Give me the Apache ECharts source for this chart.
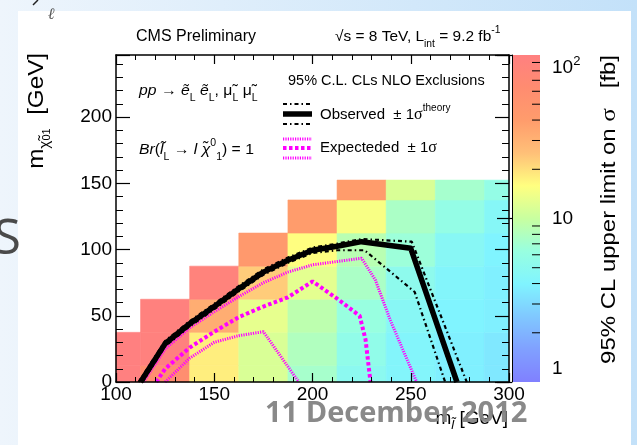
<!DOCTYPE html>
<html>
<head>
<meta charset="utf-8">
<script src="https://cdn.jsdelivr.net/npm/echarts/dist/echarts.min.js"></script>
<style>
html,body{margin:0;padding:0;background:#fff;}
#c{width:637px;height:445px;}
</style>
</head>
<body>
<div id="c"></div>
<script>
// ---------------- data ----------------
const xCenters = [100, 125, 150, 175, 200, 225, 250, 275, 300];
const binWidth = 25;
const yEdges = [-12.5, 12.5, 37.5, 62.5, 87.5, 112.5, 137.5, 152.5];
// 95% CL upper limit on sigma [fb], per column of m_slepton, from the lowest LSP row upwards
const limitValues = [
  [100, 100],
  [60, 95, 95],
  [18, 18, 32, 88],
  [11.5, 11.5, 13, 23, 43],
  [7.3, 8, 9, 12.6, 16, 40],
  [5, 5.5, 6.3, 7.6, 8.7, 15, 40],
  [4.2, 4.2, 4.6, 5.2, 6.6, 7.6, 11.5],
  [3.8, 3.8, 4, 4.2, 4.6, 5.8, 7.2],
  [3.5, 3.5, 3.8, 3.8, 4, 4.5, 5.8]
];
const observed = [[112.5,0],[125,29],[137.5,44],[150,57],[162.5,70.5],[175,83],[187.5,92],[200,99.5],[212.5,102.5],[225,106],[250,101],[273.5,0]];
const observedUp = [[111.5,0],[125,31],[137.5,46],[150,59],[162.5,72.5],[175,85],[187.5,94],[200,101.5],[212.5,104.5],[225,108],[250.5,106],[278.5,0]];
const observedDown = [[113.5,0],[125,27],[137.5,42],[150,55],[162.5,68.5],[175,81],[187.5,90],[200,97.5],[212.5,99.5],[226.5,99.5],[252,68],[267.5,0]];
const expected = [[120.5,0],[125,10],[137.5,26],[150,38],[162.5,49],[175,57],[187.5,64],[200,76],[212.5,63],[224,50],[227,32],[229.5,0]];
const expectedUp = [[114,0],[125,25],[137.5,41],[150,53],[162.5,64.5],[175,75],[187.5,83],[200,88.5],[212.5,91],[225,93.5],[232,77],[239.5,47],[253,0]];
const expectedDown = [[125,0],[137.5,18],[150,30],[162.5,35],[175,38],[193,0]];
const xTickLabels = ['100', '150', '200', '250', '300'];
const yTickLabels = ['0', '50', '100', '150', '200'];
const zTickLabels = ['1', '10', '10²'];
const zMinorTicks = [2, 3, 4, 5, 6, 7, 8, 9, 20, 30, 40, 50, 60, 70, 80, 90];
const palette = ['#8080ff','#80a0ff','#80c8ff','#80f4ff','#98ffe0','#c8ffa0','#ffff80','#ffc078','#ff9c6c','#ff8c70','#ff8080'];

// ---------------- chart ----------------
const FONT = '"Liberation Sans", Arial, Helvetica, sans-serif';
const SERIF = '"Liberation Serif", "DejaVu Serif", serif';
const chart = echarts.init(document.getElementById('c'), null, {renderer: 'canvas', width: 637, height: 445});

const cellData = [];
xCenters.forEach(function (xc, i) {
  limitValues[i].forEach(function (v, j) {
    cellData.push([xc, yEdges[j], yEdges[j + 1], v, Math.log10(v)]);
  });
});

function renderCell(params, api) {
  const xc = api.value(0), y0 = api.value(1), y1 = api.value(2);
  const p0 = api.coord([xc - binWidth / 2, y1]);
  const p1 = api.coord([xc + binWidth / 2, y0]);
  const cs = params.coordSys;
  const rect = echarts.graphic.clipRectByRect(
    {x: p0[0], y: p0[1], width: p1[0] - p0[0], height: p1[1] - p0[1]},
    {x: cs.x, y: cs.y, width: cs.width, height: cs.height});
  if (!rect) return;
  const c = api.visual('color');
  return {type: 'rect', shape: rect, style: {fill: c, stroke: c, lineWidth: 0.6}};
}

function renderBar(params, api) {
  const top = api.coord([0, api.value(2)]);
  const bot = api.coord([1, api.value(1)]);
  return {
    type: 'rect',
    shape: {x: top[0], y: top[1], width: bot[0] - top[0], height: bot[1] - top[1]},
    style: {fill: new echarts.graphic.LinearGradient(0, 1, 0, 0,
      palette.map(function (c, i) { return {offset: i / (palette.length - 1), color: c}; }))}
  };
}

function renderMinorTick(params, api) {
  const p = api.coord([1, api.value(1)]);
  return {type: 'line', shape: {x1: p[0] - 8, y1: p[1], x2: p[0], y2: p[1]},
    style: {stroke: '#000', lineWidth: 1}};
}

function labelFor(list, v) {
  const s = String(v);
  return list.indexOf(s) >= 0 ? s : '';
}

const blackLine = {color: '#000', width: 1.5};
function frameAxis(extra) {
  return Object.assign({
    type: 'value', z: 10,
    axisLine: {show: true, onZero: false, lineStyle: blackLine},
    splitLine: {show: false},
    minorSplitLine: {show: false}
  }, extra);
}

function lineSeries(data, style, z) {
  return {
    type: 'line', xAxisIndex: 0, yAxisIndex: 0, data: data,
    symbol: 'none', showSymbol: false, silent: true, clip: true,
    lineStyle: style, z: z
  };
}

function txt(x, y, text, opt) {
  opt = opt || {};
  return {
    type: 'text', x: x, y: y, z: 100, silent: true,
    rotation: opt.rotation || 0,
    scaleX: opt.scaleX || 1,
    style: {
      text: text,
      fill: opt.fill || '#000',
      fontSize: opt.fontSize || 15,
      fontFamily: opt.fontFamily || FONT,
      fontWeight: opt.fontWeight || 'normal',
      fontStyle: opt.fontStyle || 'normal',
      align: opt.align || 'left', textAlign: opt.align || 'left',
      verticalAlign: opt.vAlign || 'middle', textVerticalAlign: opt.vAlign || 'middle',
      rich: opt.rich,
      opacity: opt.opacity == null ? 1 : opt.opacity
    }
  };
}

function legLine(x1, x2, y, style) {
  return {type: 'line', z: 100, silent: true, shape: {x1: x1, y1: y, x2: x2, y2: y}, style: style};
}

const richBase = {
  t: {fontSize: 15, fontFamily: FONT, lineHeight: 24},
  i: {fontSize: 15, fontFamily: FONT, fontStyle: 'italic', lineHeight: 24},
  g: {fontSize: 16, fontFamily: SERIF, lineHeight: 24},
  sub: {fontSize: 10, fontFamily: FONT, lineHeight: 11, verticalAlign: 'bottom'},
  sup: {fontSize: 10, fontFamily: FONT, lineHeight: 11, verticalAlign: 'top'}
};

const option = {
  animation: false,
  backgroundColor: 'transparent',
  grid: [
    {left: 116, top: 55, width: 393, height: 327, outerBoundsMode: 'none', containLabel: false},
    {left: 512, top: 55, width: 28, height: 327, outerBoundsMode: 'none', containLabel: false}
  ],
  visualMap: {
    type: 'continuous', show: false, seriesIndex: 0, dimension: 4,
    min: 0, max: 2, inRange: {color: palette}
  },
  xAxis: [
    frameAxis({gridIndex: 0, position: 'bottom', min: 100, max: 300, interval: 50,
      axisTick: {show: true, inside: true, length: 9, lineStyle: {color: '#000', width: 1.2}},
      minorTick: {show: true, splitNumber: 5, length: 5, lineStyle: {color: '#000', width: 1}},
      axisLabel: {show: true, color: '#000', fontSize: 19, fontFamily: FONT, margin: 3,
        formatter: function (v) { return labelFor(xTickLabels, v); }}}),
    frameAxis({gridIndex: 0, position: 'top', min: 100, max: 300, interval: 50,
      axisTick: {show: true, inside: true, length: 9, lineStyle: {color: '#000', width: 1.2}},
      minorTick: {show: true, splitNumber: 5, length: 5, lineStyle: {color: '#000', width: 1}},
      axisLabel: {show: false}}),
    {gridIndex: 1, type: 'value', min: 0, max: 1, show: false}
  ],
  yAxis: [
    frameAxis({gridIndex: 0, position: 'left', min: 0, max: 247, interval: 50,
      axisTick: {show: true, inside: true, length: 14, lineStyle: {color: '#000', width: 1.2}},
      minorTick: {show: true, splitNumber: 5, length: 7, lineStyle: {color: '#000', width: 1}},
      axisLabel: {show: true, color: '#000', fontSize: 19, fontFamily: FONT, margin: 4, showMaxLabel: false,
        formatter: function (v) { return labelFor(yTickLabels, v); }}}),
    frameAxis({gridIndex: 0, position: 'right', min: 0, max: 247, interval: 50,
      axisTick: {show: true, inside: true, length: 14, lineStyle: {color: '#000', width: 1.2}},
      minorTick: {show: true, splitNumber: 5, length: 7, lineStyle: {color: '#000', width: 1}},
      axisLabel: {show: false}}),
    {gridIndex: 1, type: 'log', logBase: 10, min: 1, max: 100, position: 'right', z: 10,
      axisLine: {show: true, lineStyle: {color: '#000', width: 1}},
      axisTick: {show: true, inside: true, length: 15, lineStyle: {color: '#000', width: 1.2}},
      minorTick: {show: false},
      splitLine: {show: false}, minorSplitLine: {show: false},
      axisLabel: {show: true, color: '#000', fontSize: 19, fontFamily: FONT, margin: 12,
        verticalAlignMinLabel: 'bottom', verticalAlignMaxLabel: 'top',
        formatter: function (v) {
          const s = v >= 99 ? zTickLabels[2] : (v >= 9 ? zTickLabels[1] : zTickLabels[0]);
          if (s === '10²') return '{b|10}{s|2}';
          return '{b|' + s + '}';
        },
        rich: {
          b: {fontSize: 19, fontFamily: FONT, lineHeight: 26, color: '#000'},
          s: {fontSize: 13, fontFamily: FONT, lineHeight: 13, verticalAlign: 'top', color: '#000'}
        }}}
  ],
  series: [
    {type: 'custom', xAxisIndex: 0, yAxisIndex: 0, renderItem: renderCell, data: cellData,
      encode: {x: 0, y: [1, 2]}, z: 1, silent: true},
    {type: 'custom', xAxisIndex: 2, yAxisIndex: 2, renderItem: renderBar, data: [[0, 1, 100]],
      encode: {x: 0, y: [1, 2]}, z: 1, silent: true},
    {type: 'custom', xAxisIndex: 2, yAxisIndex: 2, renderItem: renderMinorTick,
      data: zMinorTicks.map(function (v) { return [1, v]; }),
      encode: {x: 0, y: 1}, z: 12, silent: true, clip: false},
    lineSeries(expectedDown, {color: '#ff00ff', width: 3, type: [1.2, 1.2]}, 3),
    lineSeries(expectedUp, {color: '#ff00ff', width: 3, type: [1.2, 1.2]}, 3),
    lineSeries(expected, {color: '#ff00ff', width: 4, type: [3.5, 2.5]}, 4),
    lineSeries(observedUp, {color: '#000', width: 2.2, type: [4, 3, 1.5, 3]}, 5),
    lineSeries(observedDown, {color: '#000', width: 2.2, type: [4, 3, 1.5, 3]}, 5),
    lineSeries(observed, {color: '#000', width: 5.5, join: 'round'}, 6)
  ],
  graphic: {
    elements: [
      // slide background + white panel
      {type: 'rect', z: -10, silent: true, shape: {x: 0, y: 0, width: 637, height: 445},
        style: {fill: new echarts.graphic.LinearGradient(0, 0, 1, 0, [
          {offset: 0, color: '#eef5fc'}, {offset: 1, color: '#c3e1f9'}])}},
      {type: 'rect', z: -9, silent: true, shape: {x: 18, y: 11, width: 613, height: 434}, style: {fill: '#ffffff'}},
      {type: 'line', z: 100, silent: true, shape: {x1: 33, y1: 5, x2: 38, y2: 0}, style: {stroke: '#222', lineWidth: 1.5}},
      txt(21, 240, 'S', {fontSize: 50, fill: '#4a4a4a', align: 'right', fontFamily: '"Open Sans", sans-serif'}),
      txt(51, 15, 'ℓ', {fontSize: 16, fill: '#555', align: 'center', fontStyle: 'italic', fontFamily: SERIF}),

      // headings
      txt(196, 37, 'CMS Preliminary', {fontSize: 16, align: 'center'}),
      txt(335, 37, '{t|√s = 8 TeV, L}{sub|int}{t| = 9.2 fb}{sup|-1}', {rich: richBase, scaleX: 1.03}),

      // process text
      txt(139, 91, '{i|pp}{t| → }{i|e\u0303}{sub|L}{t| }{i|e\u0303}{sub|L}{t|, }{t|μ\u0303}{sub|L}{t| }{t|μ\u0303}{sub|L}', {rich: richBase, scaleX: 1.05}),
      txt(139, 150, '{i|Br}{t|(}{i|l\u0303}{sub|L}{t| → }{i|l }{i|χ\u0303}{sup|0}{sub|1}{t|) = 1}', {rich: richBase, scaleX: 1.05}),

      // legend
      txt(288, 81, '95% C.L. CLs NLO Exclusions', {fontSize: 14.5}),
      legLine(283, 312, 104, {stroke: '#000', lineWidth: 2.2, lineDash: [4, 3, 1.5, 3]}),
      legLine(283, 312, 114, {stroke: '#000', lineWidth: 5.5}),
      legLine(283, 312, 124, {stroke: '#000', lineWidth: 2.2, lineDash: [4, 3, 1.5, 3]}),
      txt(320, 115, '{t|Observed  ± 1}{g|σ}{sup|theory}', {rich: richBase}),
      legLine(283, 312, 139, {stroke: '#ff00ff', lineWidth: 3, lineDash: [1.2, 1.2]}),
      legLine(283, 312, 148, {stroke: '#ff00ff', lineWidth: 4, lineDash: [3.5, 2.5]}),
      legLine(283, 312, 158, {stroke: '#ff00ff', lineWidth: 3, lineDash: [1.2, 1.2]}),
      txt(320, 148, '{t|Expecteded  ± 1}{g|σ}', {rich: richBase}),

      // axis titles
      txt(37, 53, '{m|m}{s|χ\u0303}{p|0}{q|1}{m|  [GeV]}', {rotation: Math.PI / 2, align: 'right', scaleX: 1.1, rich: {
        m: {fontSize: 22, fontFamily: FONT, lineHeight: 30},
        s: {fontSize: 14, fontFamily: FONT, lineHeight: 14, verticalAlign: 'bottom'},
        p: {fontSize: 10, fontFamily: FONT, lineHeight: 22, verticalAlign: 'bottom'},
        q: {fontSize: 10, fontFamily: FONT, lineHeight: 10, verticalAlign: 'bottom'}
      }}),
      txt(508, 419, '{m|m}{s|l\u0303}{m| [GeV]}', {align: 'right', rich: {
        m: {fontSize: 19, fontFamily: FONT, lineHeight: 26},
        s: {fontSize: 13, fontFamily: FONT, fontStyle: 'italic', lineHeight: 12, verticalAlign: 'bottom'}
      }}),
      txt(609, 55, '{t|95% CL upper limit on }{g|σ}{t|   [fb]}', {rotation: Math.PI / 2, align: 'right', scaleX: 1.14, rich: {
        t: {fontSize: 21, fontFamily: FONT, lineHeight: 26},
        g: {fontSize: 22, fontFamily: SERIF, lineHeight: 26}
      }}),

      // slide date overlay
      txt(265, 414, '11 December 2012', {fontSize: 29, fontWeight: 'bold', fill: '#858585',
        fontFamily: '"Open Sans", "DejaVu Sans", sans-serif', opacity: 0.97})
    ]
  }
};
chart.setOption(option);
</script>
</body>
</html>
